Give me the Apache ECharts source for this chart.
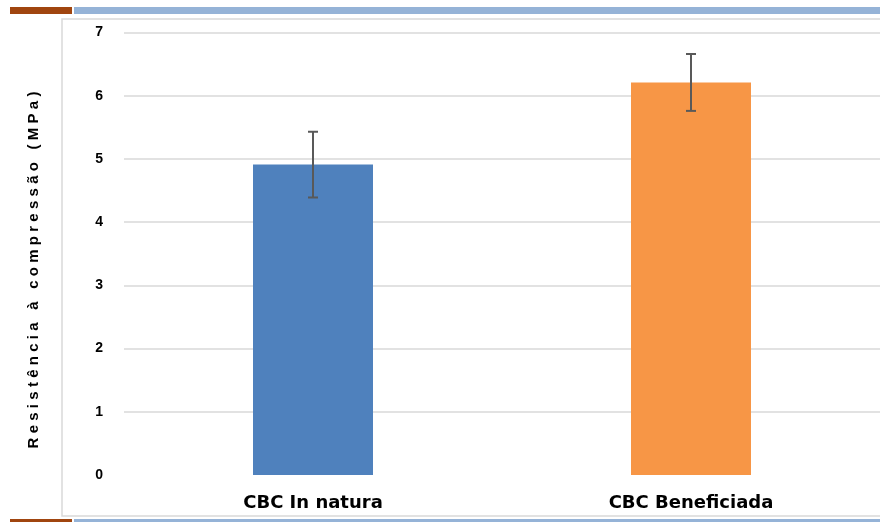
<!DOCTYPE html>
<html><head><meta charset="utf-8">
<script src="https://cdn.jsdelivr.net/npm/echarts@6/dist/echarts.min.js"></script>
<style>html,body{margin:0;padding:0;background:#fff}#c{width:880px;height:522px}</style>
</head><body><div id="c"></div>
<script>
var categories = ['CBC In natura', 'CBC Beneficiada'];
var values = [4.91, 6.21];
var errors = [0.52, 0.45];
var barColors = ['#4f81bd', '#f79646'];
var yTicks = [0, 1, 2, 3, 4, 5, 6, 7];
var yTitle = 'Resistência à compressão (MPa)';

var spaced = yTitle.split('').join('\u2009\u200A');
var chart = echarts.init(document.getElementById('c'), null, {renderer: 'canvas'});
chart.setOption({
  animation: false,
  graphic: [
    {type: 'rect', shape: {x: 10, y: 7, width: 62, height: 7}, style: {fill: '#a0450f'}},
    {type: 'rect', shape: {x: 74, y: 7, width: 810, height: 7}, style: {fill: '#95b3d7'}},
    {type: 'rect', shape: {x: 10, y: 519, width: 62, height: 5}, style: {fill: '#a0450f'}},
    {type: 'rect', shape: {x: 74, y: 519, width: 810, height: 5}, style: {fill: '#95b3d7'}},
    {type: 'rect', shape: {x: 62, y: 19, width: 840, height: 497}, style: {fill: 'none', stroke: '#d9d9d9', lineWidth: 1.5}, z: -1},
    {type: 'text', x: 34, y: 270, rotation: Math.PI / 2,
     style: {text: spaced, font: 'bold 15px "Liberation Sans", Arial, sans-serif', fill: '#000', textAlign: 'center', textVerticalAlign: 'middle'}}
  ],
  grid: {left: 124, right: -4, top: 32.5, bottom: 47, containLabel: false},
  xAxis: {
    type: 'category', data: categories,
    axisLine: {show: false}, axisTick: {show: false},
    axisLabel: {margin: 19, fontSize: 18, fontWeight: 'bold', fontFamily: '"DejaVu Sans", sans-serif', color: '#000'}
  },
  yAxis: {
    type: 'value', min: yTicks[0], max: yTicks[yTicks.length - 1], interval: 1,
    axisLine: {show: false}, axisTick: {show: false},
    axisLabel: {margin: 21, fontSize: 14, fontWeight: 'bold', fontFamily: '"Liberation Sans", Arial, sans-serif', color: '#000'},
    splitLine: {show: true, showMinLine: false, lineStyle: {color: '#d9d9d9', width: 1.5}}
  },
  series: [
    {
      type: 'bar', barWidth: 120,
      data: values.map(function (v, i) { return {value: v, itemStyle: {color: barColors[i]}}; })
    },
    {
      type: 'custom', z: 5,
      data: values.map(function (v, i) { return [i, v - errors[i], v + errors[i]]; }),
      renderItem: function (params, api) {
        var lo = api.coord([api.value(0), api.value(1)]);
        var hi = api.coord([api.value(0), api.value(2)]);
        var hw = 5;
        var st = {stroke: '#595959', lineWidth: 2};
        return {type: 'group', children: [
          {type: 'line', shape: {x1: hi[0], y1: hi[1], x2: lo[0], y2: lo[1]}, style: st},
          {type: 'line', shape: {x1: hi[0] - hw, y1: hi[1], x2: hi[0] + hw, y2: hi[1]}, style: st},
          {type: 'line', shape: {x1: lo[0] - hw, y1: lo[1], x2: lo[0] + hw, y2: lo[1]}, style: st}
        ]};
      }
    }
  ]
});
</script></body></html>
